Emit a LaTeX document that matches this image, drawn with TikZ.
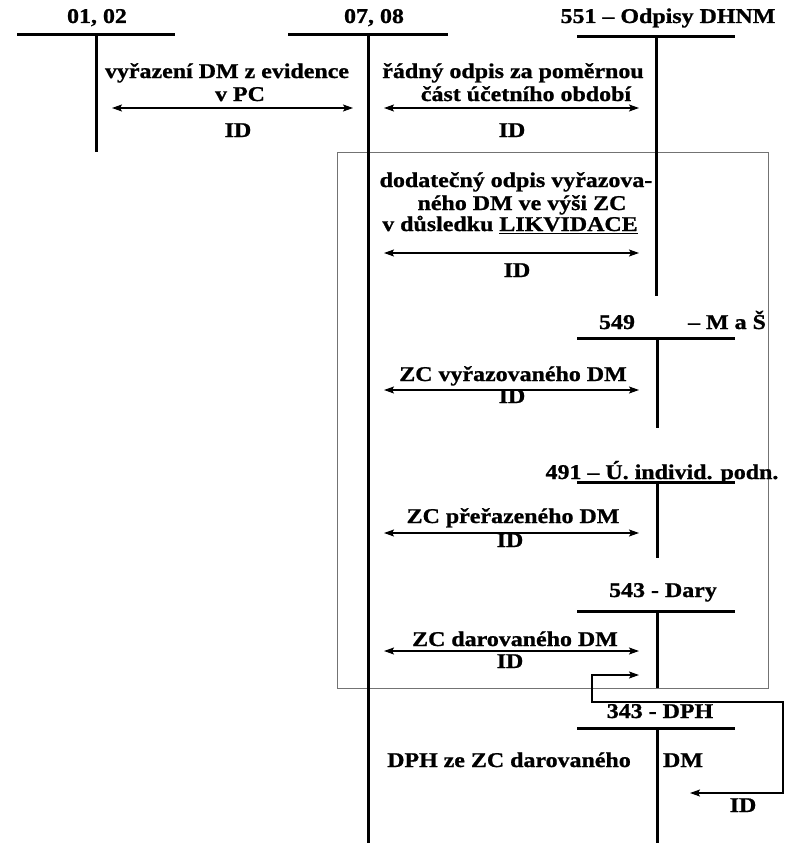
\documentclass[tikz,border=0pt]{standalone}
\usepackage{fontspec}
\setmainfont{Liberation Serif}[FakeStretch=1.14, BoldFeatures={FakeBold=1.0}]
\usetikzlibrary{arrows.meta}
\begin{document}
\begin{tikzpicture}[x=1pt,y=-1pt,
  tline/.style={line width=3pt},
  txt/.style={font=\bfseries\fontsize{21}{24}\selectfont, inner sep=0pt, text height=14pt, text depth=4pt, align=center},
  tip/.tip={Stealth[length=10pt,width=7pt,inset=2pt]},
  arr/.style={line width=1.4pt, tip-tip},
  boxline/.style={draw=black!55, line width=0.8pt}]
\useasboundingbox (0,0) rectangle (785,843);
\fill[white] (0,0) rectangle (785,843);
% grey frame
\draw[boxline] (337,152) rectangle (768,688);
% T-accounts
\draw[tline] (17,35) -- (175,35);  \draw[tline] (96,35) -- (96,152);
\node[txt] (a01) at (97,18) {01, 02};
\draw[tline] (288,35) -- (448,35); \draw[tline] (368,35) -- (368,843);
\node[txt] (a07) at (374,18) {07, 08};
\draw[tline] (577,37) -- (735,37); \draw[tline] (656,37) -- (656,296);
\node[txt] (a551) at (668,18) {551 – Odpisy DHNM};
\draw[tline] (577,338) -- (735,338); \draw[tline] (657,338) -- (657,428);
\node[txt] (a549a) at (617,324) {549};
\node[txt] (a549b) at (727,324) {– M a Š};
\draw[tline] (577,482) -- (735,482); \draw[tline] (657,482) -- (657,558);
\node[txt] (a491) at (662,474) {491 – Ú. individ. podn.};
\draw[tline] (577,611) -- (735,611); \draw[tline] (657,611) -- (657,688);
\node[txt] (a543) at (663,592) {543 - Dary};
\draw[tline] (577,728) -- (735,728); \draw[tline] (657,728) -- (657,843);
\node[txt] (a343) at (660,713) {343 - DPH};
% operation 1
\node[txt] (t1a) at (227,73) {vyřazení DM z evidence};
\node[txt] (t1b) at (240,96) {v PC};
\coordinate (p1l) at (112,108); \coordinate (p1r) at (353,108);
\draw[arr] (p1l) -- (p1r);
\node[txt] (id1) at (238,132) {ID};
% operation 2
\node[txt] (t2a) at (513,73) {řádný odpis za poměrnou};
\node[txt] (t2b) at (526,96) {část účetního období};
\coordinate (p2l) at (384,108); \coordinate (p2r) at (639,108);
\draw[arr] (p2l) -- (p2r);
\node[txt] (id2) at (512,132) {ID};
% operation 3
\node[txt] (t3a) at (516,182) {dodatečný odpis vyřazova-};
\node[txt] (t3b) at (522,205) {ného DM ve výši ZC};
\node[txt] (t3c) at (510,226) {v důsledku \underline{LIKVIDACE}};
\coordinate (p3l) at (384,253); \coordinate (p3r) at (639,253);
\draw[arr] (p3l) -- (p3r);
\node[txt] (id3) at (517,272) {ID};
% operation 4
\node[txt] (t4) at (513,376) {ZC vyřazovaného DM};
\coordinate (p4l) at (384,390); \coordinate (p4r) at (639,390);
\draw[arr] (p4l) -- (p4r);
\node[txt] (id4) at (512,398) {ID};
% operation 5
\node[txt] (t5) at (513,518) {ZC přeřazeného DM};
\coordinate (p5l) at (384,533); \coordinate (p5r) at (639,533);
\draw[arr] (p5l) -- (p5r);
\node[txt] (id5) at (510,542) {ID};
% operation 6
\node[txt] (t6) at (515,641) {ZC darovaného DM};
\coordinate (p6l) at (384,651); \coordinate (p6r) at (639,651);
\draw[arr] (p6l) -- (p6r);
\node[txt] (id6) at (510,663) {ID};
% operation 7 (VAT)
\node[txt] (t7a) at (509,762) {DPH ze ZC darovaného};
\node[txt] (t7b) at (683,762) {DM};
\coordinate (p7a) at (639,675); \coordinate (p7b) at (690,793);
\draw[arr] (p7a) -- (592,675) -- (592,702) -- (783,702) -- (783,793) -- (p7b);
\node[txt] (id7) at (743,807) {ID};
\end{tikzpicture}
\end{document}
